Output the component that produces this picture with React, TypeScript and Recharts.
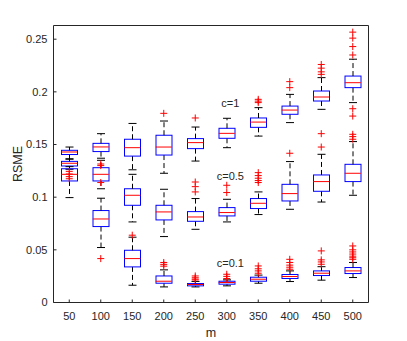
import React from 'react';
import { ComposedChart, Bar, Scatter, XAxis, YAxis, ReferenceDot, Label } from 'recharts';

const mValues = [50, 100, 150, 200, 250, 300, 350, 400, 450, 500];
const yTicks = [0, 0.05, 0.1, 0.15, 0.2, 0.25];
const yMax = 0.263;
const cLabels = ['c=1', 'c=0.5', 'c=0.1'];
const cLabelValues = [0.1894, 0.1201, 0.0378];
const cLabelAtM = 300;

// c = 1
const c1Low = [0.136, 0.137, 0.126, 0.1227, 0.1343, 0.147, 0.158, 0.1708, 0.1834, 0.1898];
const c1Q1 = [0.1405, 0.1433, 0.139, 0.14, 0.1461, 0.1559, 0.1663, 0.1787, 0.1913, 0.204];
const c1Med = [0.1429, 0.1477, 0.147, 0.1476, 0.1518, 0.1606, 0.1713, 0.1827, 0.1951, 0.2087];
const c1Q3 = [0.1445, 0.1511, 0.155, 0.1588, 0.1556, 0.1654, 0.1752, 0.1865, 0.2008, 0.215];
const c1High = [0.1476, 0.1603, 0.17, 0.1723, 0.1666, 0.1749, 0.185, 0.1976, 0.2135, 0.231];
const c1Outliers = [
  [], [0.1315, 0.13], [], [0.1796], [0.1752], [], [0.1929, 0.1912, 0.1898],
  [0.2097, 0.204], [0.226, 0.2225, 0.219, 0.2166], [0.2567, 0.251, 0.243, 0.235, 0.184, 0.177],
];

// c = 0.5
const c05Low = [0.1265, 0.108, 0.0765, 0.0626, 0.0695, 0.0765, 0.0835, 0.0885, 0.0954, 0.1018];
const c05Q1 = [0.1296, 0.1154, 0.0923, 0.0784, 0.0771, 0.0822, 0.0892, 0.0964, 0.1056, 0.1148];
const c05Med = [0.1322, 0.1217, 0.1018, 0.086, 0.0812, 0.0854, 0.0942, 0.1034, 0.1148, 0.1227];
const c05Q3 = [0.134, 0.128, 0.108, 0.0923, 0.0863, 0.0901, 0.0987, 0.1122, 0.1211, 0.1312];
const c05High = [0.1365, 0.135, 0.1217, 0.1075, 0.0987, 0.098, 0.105, 0.1338, 0.1407, 0.1528];
const c05Outliers = [
  [0.1245, 0.122, 0.1195, 0.1175], [], [0.0639], [], [0.1144, 0.11, 0.105], [0.1113, 0.1044],
  [0.1233, 0.1205, 0.118, 0.1158, 0.1139], [0.1417], [0.1603, 0.1476], [0.1597, 0.1575, 0.155],
];

// c = 0.1
const c01Low = [0.0996, 0.0522, 0.0164, 0.0148, 0.0148, 0.0158, 0.0183, 0.0199, 0.0212, 0.0237];
const c01Q1 = [0.1154, 0.0721, 0.0338, 0.0183, 0.0158, 0.0174, 0.0202, 0.0228, 0.0256, 0.0275];
const c01Med = [0.1217, 0.0793, 0.0417, 0.0202, 0.0171, 0.019, 0.0221, 0.0247, 0.0278, 0.03];
const c01Q3 = [0.127, 0.0873, 0.0496, 0.0252, 0.018, 0.0202, 0.024, 0.0266, 0.03, 0.0332];
const c01High = [0.129, 0.099, 0.062, 0.031, 0.02, 0.0215, 0.026, 0.03, 0.034, 0.038];
const c01Outliers = [
  [], [0.1139, 0.0417], [], [0.038, 0.0362, 0.0345], [0.0252, 0.0235, 0.0222, 0.0214],
  [0.0268, 0.0248, 0.0228], [0.0347, 0.032, 0.03, 0.0278], [0.041, 0.038, 0.0355, 0.0335, 0.0316],
  [0.049, 0.0405, 0.0385, 0.0363], [0.0537, 0.05, 0.048, 0.046, 0.044, 0.0425, 0.041],
];

const groups = [
  { id: 'g1', lo: c1Low, q1: c1Q1, med: c1Med, q3: c1Q3, hi: c1High, out: c1Outliers, xAxisId: 'xb', yAxisId: 'left' },
  { id: 'g2', lo: c05Low, q1: c05Q1, med: c05Med, q3: c05Q3, hi: c05High, out: c05Outliers, xAxisId: 'xt', yAxisId: 'right' },
  { id: 'g3', lo: c01Low, q1: c01Q1, med: c01Med, q3: c01Q3, hi: c01High, out: c01Outliers, xAxisId: 'xh', yAxisId: 'left' },
];

const table = mValues.map((m, i) => {
  const row: any = { m };
  groups.forEach((g) => {
    row[g.id + '_base'] = g.lo[i];
    row[g.id + '_lw'] = g.q1[i] - g.lo[i];
    row[g.id + '_box'] = g.q3[i] - g.q1[i];
    row[g.id + '_hw'] = g.hi[i] - g.q3[i];
    row[g.id + '_med'] = g.med[i];
  });
  return row;
});

const outlierPoints = groups.flatMap((g) =>
  g.out.flatMap((vals, i) => vals.map((v) => ({ m: mValues[i], v })))
);

const AXIS = '#262626';
const FONT = '"Liberation Sans", Arial, Helvetica, sans-serif';
const CAP = 4;

const EmptyShape = () => <g />;

const LowerWhisker = (p: any) => {
  const cx = p.x + p.width / 2;
  const y0 = p.y;
  const y1 = p.y + p.height;
  return (
    <g>
      <line x1={cx} x2={cx} y1={y0} y2={y1} stroke="#000" strokeWidth={1} strokeDasharray="5 3" />
      <line x1={cx - CAP} x2={cx + CAP} y1={y1} y2={y1} stroke="#000" strokeWidth={1} />
    </g>
  );
};

const UpperWhisker = (p: any) => {
  const cx = p.x + p.width / 2;
  const y0 = p.y;
  const y1 = p.y + p.height;
  return (
    <g>
      <line x1={cx} x2={cx} y1={y1} y2={y0} stroke="#000" strokeWidth={1} strokeDasharray="5 3" />
      <line x1={cx - CAP} x2={cx + CAP} y1={y0} y2={y0} stroke="#000" strokeWidth={1} />
    </g>
  );
};

const BoxShape = (p: any) => (
  <rect x={p.x} y={p.y} width={p.width} height={p.height} fill="none" stroke="#0000ff" strokeWidth={1} />
);

const MedianShape = (p: any) => (
  <line x1={p.cx - 8} x2={p.cx + 8} y1={p.cy} y2={p.cy} stroke="#ff0000" strokeWidth={1} />
);

const PlusShape = (p: any) => (
  <g stroke="#ff0000" strokeWidth={1}>
    <line x1={p.cx - 3.5} x2={p.cx + 3.5} y1={p.cy} y2={p.cy} />
    <line x1={p.cx} x2={p.cx} y1={p.cy - 3.5} y2={p.cy + 3.5} />
  </g>
);

const YLabel = (props: any) => {
  const vb = props.viewBox || { x: 0, y: 25.5, width: 53.5, height: 277 };
  const x = vb.x + 22;
  const y = vb.y + vb.height / 2;
  return (
    <text x={x} y={y} transform={`rotate(-90 ${x} ${y})`} textAnchor="middle" fill={AXIS} fontSize={12.5} fontFamily={FONT}>
      RSME
    </text>
  );
};

export default function App() {
  return (
    <div style={{ position: 'absolute', left: 0, top: 0, width: 407, height: 341, background: '#fff' }}>
      <ComposedChart
        width={407}
        height={341}
        data={table}
        margin={{ top: 24.5, right: 37.5, bottom: 0, left: 0 }}
        style={{ fontFamily: FONT }}
      >
        <XAxis
          xAxisId="xb"
          dataKey="m"
          type="category"
          allowDuplicatedCategory={false}
          height={38.5}
          interval={0}
          tickSize={-3}
          tickMargin={13}
          stroke={AXIS}
          tick={{ fill: AXIS, fontSize: 11, fontFamily: FONT }}
          label={{ value: 'm', position: 'insideBottom', offset: 4.5, fill: AXIS, fontSize: 12.5, fontFamily: FONT }}
        />
        <XAxis
          xAxisId="xt"
          orientation="top"
          dataKey="m"
          type="category"
          allowDuplicatedCategory={false}
          height={1}
          interval={0}
          tickSize={-3}
          tick={false}
          stroke={AXIS}
        />
        <XAxis xAxisId="xh" dataKey="m" type="category" allowDuplicatedCategory={false} hide />
        <YAxis
          yAxisId="left"
          type="number"
          domain={[0, yMax]}
          ticks={yTicks}
          allowDataOverflow
          width={53.5}
          tickSize={-3}
          tickMargin={9}
          stroke={AXIS}
          tick={{ fill: AXIS, fontSize: 11, fontFamily: FONT }}
          tickFormatter={(v: number) => String(v)}
        >
          <Label content={YLabel} />
        </YAxis>
        <YAxis
          yAxisId="right"
          orientation="right"
          type="number"
          domain={[0, yMax]}
          ticks={yTicks}
          allowDataOverflow
          width={1}
          tickSize={-3}
          tick={false}
          stroke={AXIS}
        />

        {groups.map((g) => [
          <Bar key={g.id + 'b'} dataKey={g.id + '_base'} stackId={g.id} xAxisId={g.xAxisId} yAxisId={g.yAxisId} barSize={16} shape={EmptyShape} isAnimationActive={false} />,
          <Bar key={g.id + 'l'} dataKey={g.id + '_lw'} stackId={g.id} xAxisId={g.xAxisId} yAxisId={g.yAxisId} barSize={16} shape={LowerWhisker} isAnimationActive={false} />,
          <Bar key={g.id + 'x'} dataKey={g.id + '_box'} stackId={g.id} xAxisId={g.xAxisId} yAxisId={g.yAxisId} barSize={16} shape={BoxShape} isAnimationActive={false} />,
          <Bar key={g.id + 'h'} dataKey={g.id + '_hw'} stackId={g.id} xAxisId={g.xAxisId} yAxisId={g.yAxisId} barSize={16} shape={UpperWhisker} isAnimationActive={false} />,
        ])}

        {groups.map((g) => (
          <Scatter key={g.id + 'm'} dataKey={g.id + '_med'} xAxisId="xb" yAxisId="left" shape={MedianShape} isAnimationActive={false} />
        ))}

        <Scatter data={outlierPoints} dataKey="v" xAxisId="xb" yAxisId="left" shape={PlusShape} isAnimationActive={false} />

        {cLabels.map((t, i) => (
          <ReferenceDot
            key={t}
            x={cLabelAtM}
            y={cLabelValues[i]}
            xAxisId="xb"
            yAxisId="left"
            r={0}
            fill="none"
            stroke="none"
            label={{ value: t, position: 'center', fill: AXIS, fontSize: 11, fontFamily: FONT, dx: 3.6 }}
          />
        ))}
      </ComposedChart>
    </div>
  );
}
